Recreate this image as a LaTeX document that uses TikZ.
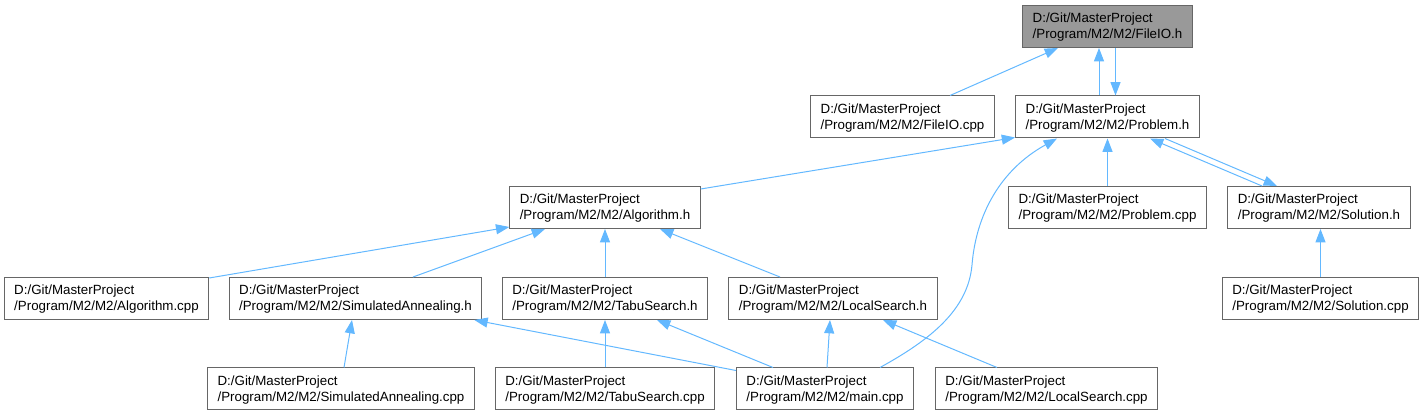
\documentclass[tikz,border=0pt]{standalone}
\usepackage{fontspec}
\setmainfont{Liberation Sans}
\usetikzlibrary{arrows.meta,calc}
\definecolor{edgeblue}{HTML}{63B8FF}
\definecolor{boxborder}{HTML}{666666}
\definecolor{boxfill}{HTML}{999999}
\newcommand\twoline[2]{\raisebox{-0.8pt}[\height][\depth]{\begin{tabular}{@{}l@{}}#1\\#2\end{tabular}}}
\begin{document}
\begin{tikzpicture}[x=0.75pt,y=-0.75pt,
  box/.style={draw=boxborder, line width=0.75pt, fill=white, rectangle,
    minimum height=31.5pt, inner xsep=7.5pt, inner ysep=0pt,
    font=\fontsize{10}{12}\selectfont},
  dep/.style={draw=edgeblue, line width=0.75pt, -{Triangle[length=10pt,width=7.5pt]}}
]
\useasboundingbox (0,0) rectangle (1422,416);

\node[box, fill=boxfill, minimum width=126.75pt] (fileioh) at (1107.5,26.5) {\twoline{D:/Git/MasterProject}{/Program/M2/M2/FileIO.h}};
\node[box, minimum width=135.75pt] (fileiocpp) at (902.5,117) {\twoline{D:/Git/MasterProject}{/Program/M2/M2/FileIO.cpp}};
\node[box, minimum width=135.75pt] (problemh) at (1107.5,117) {\twoline{D:/Git/MasterProject}{/Program/M2/M2/Problem.h}};
\node[box, minimum width=141pt] (algoh) at (605,207.5) {\twoline{D:/Git/MasterProject}{/Program/M2/M2/Algorithm.h}};
\node[box, minimum width=146.25pt] (problemcpp) at (1107.5,207.5) {\twoline{D:/Git/MasterProject}{/Program/M2/M2/Problem.cpp}};
\node[box, minimum width=135pt] (solutionh) at (1319,207.5) {\twoline{D:/Git/MasterProject}{/Program/M2/M2/Solution.h}};
\node[box, minimum width=152.25pt] (algocpp) at (106.5,298.5) {\twoline{D:/Git/MasterProject}{/Program/M2/M2/Algorithm.cpp}};
\node[box, minimum width=185.25pt] (simannh) at (355.5,298.5) {\twoline{D:/Git/MasterProject}{/Program/M2/M2/SimulatedAnnealing.h}};
\node[box, minimum width=153pt] (tabuh) at (605,298.5) {\twoline{D:/Git/MasterProject}{/Program/M2/M2/TabuSearch.h}};
\node[box, minimum width=154.5pt] (localh) at (833,298.5) {\twoline{D:/Git/MasterProject}{/Program/M2/M2/LocalSearch.h}};
\node[box, minimum width=146.25pt] (solcpp) at (1320.5,298.5) {\twoline{D:/Git/MasterProject}{/Program/M2/M2/Solution.cpp}};
\node[box, minimum width=198pt] (simanncpp) at (341,389) {\twoline{D:/Git/MasterProject}{/Program/M2/M2/SimulatedAnnealing.cpp}};
\node[box, minimum width=162pt] (tabucpp) at (605,389) {\twoline{D:/Git/MasterProject}{/Program/M2/M2/TabuSearch.cpp}};
\node[box, minimum width=132pt] (maincpp) at (825,389) {\twoline{D:/Git/MasterProject}{/Program/M2/M2/main.cpp}};
\node[box, minimum width=164.25pt] (localcpp) at (1046.5,389) {\twoline{D:/Git/MasterProject}{/Program/M2/M2/LocalSearch.cpp}};

\draw[dep] ($(fileiocpp.north)+(47.5,0)$) -- ($(fileioh.south)+(-49.5,0)$);
\draw[dep] ($(problemh.north)+(-8.5,0)$) -- ($(fileioh.south)+(-8.5,0)$);
\draw[dep] ($(fileioh.south)+(8,0)$) -- ($(problemh.north)+(8,0)$);
\draw[dep] ($(algoh.north east)+(0,3)$) -- ($(problemh.south west)+(0,-1)$);
\draw[dep] ($(maincpp.north)+(55,0)$) .. controls (930,340) and (968,310) .. (972,265)
  .. controls (976,215) and (1000,170) .. ($(problemh.south)+(-50.5,0)$);
\draw[dep] (problemcpp.north) -- (problemh.south);
\draw[dep] ($(solutionh.north)+(-57,0)$) -- ($(problemh.south)+(42.5,0)$);
\draw[dep] ($(problemh.south)+(57.5,0)$) -- ($(solutionh.north)+(-42,0)$);
\draw[dep] (solcpp.north) -- (solcpp.north |- solutionh.south);
\draw[dep] ($(algocpp.north east)+(0,1)$) -- ($(algoh.south west)+(0,-2)$);
\draw[dep] ($(simannh.north)+(57.5,0)$) -- ($(algoh.south)+(-60,0)$);
\draw[dep] (tabuh.north) -- (algoh.south);
\draw[dep] ($(localh.north)+(-53,0)$) -- ($(algoh.south)+(55,0)$);
\draw[dep] ($(simanncpp.north)+(3,0)$) -- ($(simannh.south)+(-3.5,0)$);
\draw[dep] ($(maincpp.north west)+(0,3)$) -- ($(simannh.south east)+(-8,0)$);
\draw[dep] (tabucpp.north) -- (tabuh.south);
\draw[dep] ($(maincpp.north)+(-52,0)$) -- ($(tabuh.south)+(52,0)$);
\draw[dep] ($(maincpp.north)+(2,0)$) -- ($(localh.south)+(-3,0)$);
\draw[dep] ($(localcpp.north)+(-49.5,0)$) -- ($(localh.south)+(50,0)$);
\end{tikzpicture}
\end{document}
